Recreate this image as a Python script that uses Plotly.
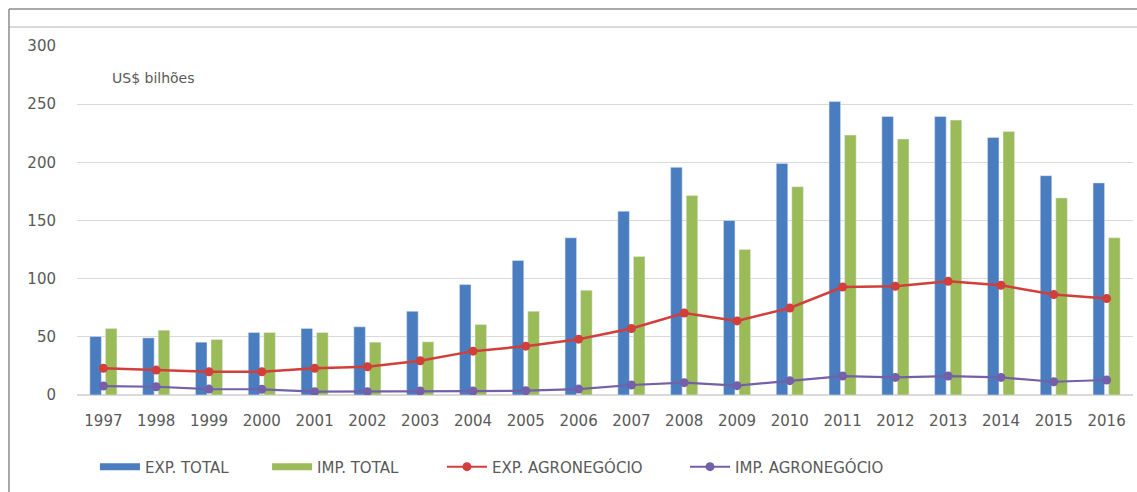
import plotly.graph_objects as go

years = [str(y) for y in range(1997, 2017)]
exp_total = [50.3, 49.1, 45.4, 53.7, 57.2, 58.6, 72.0, 94.9, 115.7, 135.1, 158.0, 195.7, 150.0, 199.1, 252.2, 239.4, 239.4, 221.4, 188.5, 182.3]
imp_total = [57.2, 55.7, 47.7, 53.7, 53.7, 45.4, 45.7, 60.6, 72.0, 90.0, 119.1, 171.4, 125.1, 179.1, 223.4, 220.0, 236.3, 226.5, 169.4, 135.1]
exp_agro = [22.9, 21.4, 20.0, 20.0, 22.9, 24.3, 29.4, 37.7, 42.0, 48.0, 57.2, 70.5, 63.7, 74.8, 92.8, 93.4, 97.7, 94.3, 86.3, 82.9]
imp_agro = [7.7, 7.1, 5.1, 4.9, 2.9, 2.9, 3.4, 3.4, 3.7, 5.1, 8.6, 10.6, 8.0, 12.3, 16.3, 15.1, 16.3, 15.1, 11.4, 12.9]

FONT = "DejaVu Sans"
GRAY = "#595959"
BLUE = "#4a7cc0"
GREEN = "#9bbb59"
RED = "#d23f3b"
PURPLE = "#7360a8"

fig = go.Figure()
fig.add_trace(go.Bar(x=years, y=exp_total, name="EXP. TOTAL", marker_color=BLUE, showlegend=False))
fig.add_trace(go.Bar(x=years, y=imp_total, name="IMP. TOTAL", marker_color=GREEN, showlegend=False))
fig.add_trace(go.Scatter(x=years, y=exp_agro, name="EXP. AGRONEGÓCIO", mode="lines+markers",
                         line=dict(color=RED, width=2.5),
                         marker=dict(color=RED, size=9, symbol="circle"), showlegend=False))
fig.add_trace(go.Scatter(x=years, y=imp_agro, name="IMP. AGRONEGÓCIO", mode="lines+markers",
                         line=dict(color=PURPLE, width=2.2),
                         marker=dict(color=PURPLE, size=9, symbol="circle"), showlegend=False))

# legend entries (wide bar swatches like the original), each in its own legend box
fig.add_trace(go.Scatter(x=[None], y=[None], name="EXP. TOTAL", mode="lines",
                         line=dict(color=BLUE, width=7), legend="legend"))
fig.add_trace(go.Scatter(x=[None], y=[None], name="IMP. TOTAL", mode="lines",
                         line=dict(color=GREEN, width=7), legend="legend2"))
fig.add_trace(go.Scatter(x=[None], y=[None], name="EXP. AGRONEGÓCIO", mode="lines+markers",
                         line=dict(color=RED, width=2), marker=dict(color=RED, size=9),
                         legend="legend3"))
fig.add_trace(go.Scatter(x=[None], y=[None], name="IMP. AGRONEGÓCIO", mode="lines+markers",
                         line=dict(color=PURPLE, width=2), marker=dict(color=PURPLE, size=9),
                         legend="legend4"))

def leg(x):
    return dict(orientation="h", x=x, y=-0.206, xanchor="left", yanchor="middle",
                font=dict(family=FONT, size=15, color=GRAY), itemwidth=40,
                bgcolor="rgba(0,0,0,0)")

fig.update_layout(
    width=1137, height=492,
    margin=dict(l=77, r=4, t=46, b=97),
    paper_bgcolor="white", plot_bgcolor="white",
    barmode="group", bargap=0.41, bargroupgap=0.26,
    font=dict(family=FONT, size=15, color=GRAY),
    showlegend=True,
    legend=leg(0.017), legend2=leg(0.180), legend3=leg(0.3456), legend4=leg(0.5758),
    xaxis=dict(type="category", range=[-0.5, 19.5], showgrid=False, showline=True,
               linecolor="#d9d9d9", linewidth=1,
               ticks="", ticklabelstandoff=12, automargin=False,
               tickfont=dict(family=FONT, size=15, color=GRAY)),
    yaxis=dict(range=[0, 300], tickvals=[0, 50, 100, 150, 200, 250, 300], showgrid=True,
               gridcolor="#d9d9d9", gridwidth=1, zeroline=True, zerolinecolor="#d9d9d9",
               ticks="", ticklabelstandoff=20, automargin=False,
               tickfont=dict(family=FONT, size=15, color=GRAY)),
    annotations=[dict(text="US$ bilhões", xref="paper", yref="y", x=0.031, y=272.5,
                      xanchor="left", yanchor="middle", showarrow=False,
                      font=dict(family=FONT, size=14, color=GRAY))],
    shapes=[
        dict(type="line", xref="paper", yref="paper", x0=-0.0644, x1=1.01, y0=1.106, y1=1.106,
             line=dict(color="#555555", width=1)),
        dict(type="line", xref="paper", yref="paper", x0=-0.0644, x1=1.01, y0=1.0544, y1=1.0544,
             line=dict(color="#cccccc", width=1.5)),
        dict(type="line", xref="paper", yref="paper", x0=-0.0644, x1=-0.0644, y0=1.106, y1=-0.3,
             line=dict(color="#555555", width=1)),
    ],
)

fig.write_html("out.html")
